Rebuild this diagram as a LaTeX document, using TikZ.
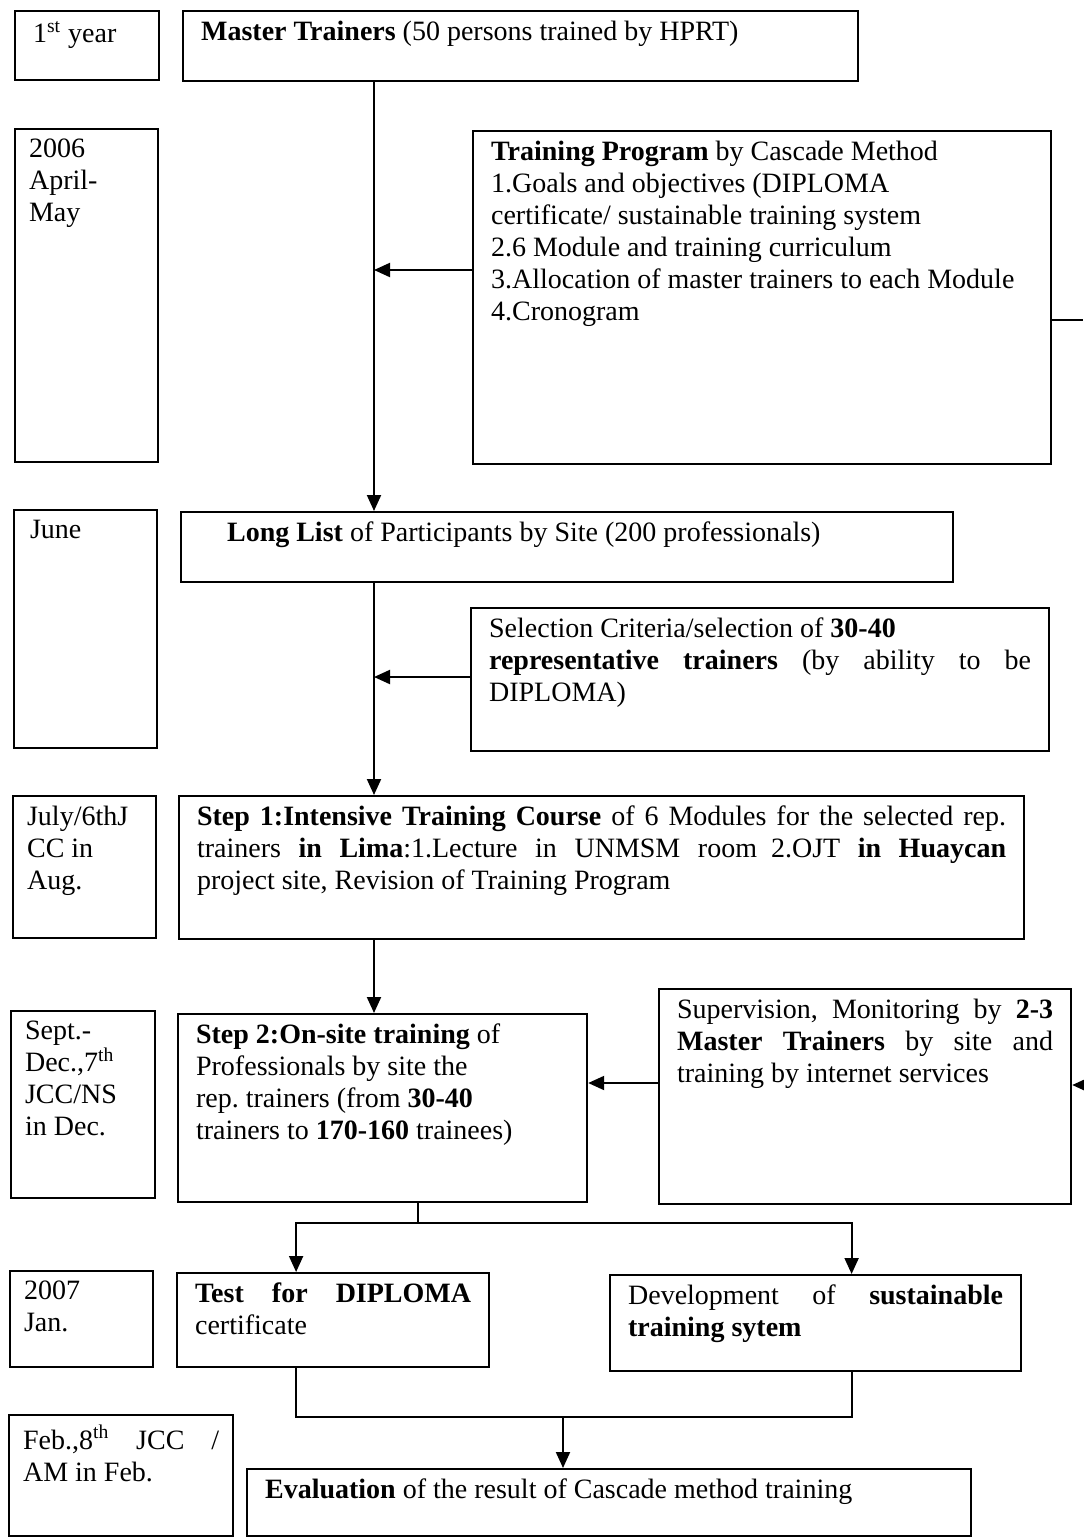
\documentclass[tikz,border=0pt]{standalone}
\usepackage{fontspec}
\setmainfont{Liberation Serif}
\usetikzlibrary{arrows.meta}
\frenchspacing

\newcommand{\cellbox}[3]{\parbox[t][#2pt][t]{#1pt}{#3}}

\begin{document}
\begin{tikzpicture}[x=0.5pt,y=-0.5pt,
    font=\fontsize{14}{16}\selectfont,
    period/.style={draw,line width=1.1pt,anchor=north west,inner xsep=7pt,inner ysep=5pt},
    stage/.style={draw,line width=1.1pt,anchor=north west,inner xsep=9pt,inner ysep=5pt},
    link/.style={line width=1pt},
    arr/.style={line width=1pt,-{Triangle[length=8pt,width=7pt]}}]
  \useasboundingbox (0,0) rectangle (1083,1537);

  % time column
  \node[period] (yr1)   at (14,10)   {\cellbox{58}{24.5}{\hspace*{2pt}1\textsuperscript{st} year}};
  \node[period] (apr)   at (14,128)  {\cellbox{57.5}{156.5}{2006\\April-\\May}};
  \node[period] (jun)   at (13,509)  {\cellbox{57.5}{109}{\hspace*{1pt}June}};
  \node[period] (jul)   at (12,795)  {\cellbox{57.5}{61}{July/6thJ\\CC in\\Aug.}};
  \node[period] (sep)   at (10,1010) {\cellbox{58}{83.5}{Sept.-\\Dec.,7\textsuperscript{th}\\JCC/NS\\in Dec.}};
  \node[period] (jan)   at (9,1270)  {\cellbox{57.5}{38}{2007\\Jan.}};
  \node[period] (feb)   at (8,1414)  {\cellbox{98}{50.5}{Feb.,8\textsuperscript{th} JCC /\linebreak AM in Feb.}};

  % stages
  \node[stage] (master) at (182,10) {\cellbox{319.5}{25}{\textbf{Master Trainers} (50 persons trained by HPRT)}};
  \node[stage] (prog) at (472,130) {\cellbox{271}{156.5}{\textbf{Training Program} by Cascade Method\\
    1.Goals and objectives (DIPLOMA\\
    certificate/ sustainable training system\\
    2.6 Module and training curriculum\\
    3.Allocation of master trainers to each Module\\
    4.Cronogram}};
  \node[stage] (list) at (180,511) {\cellbox{368}{25}{\hspace*{14pt}\textbf{Long List} of Participants by Site (200 professionals)}};
  \node[stage] (select) at (470,607) {\cellbox{271}{61.5}{Selection Criteria/selection of \textbf{30-40}\\
    \textbf{representative trainers} (by ability to be\linebreak
    DIPLOMA)}};
  \node[stage] (step1) at (178,795) {\cellbox{404.5}{61.5}{\textbf{Step 1:Intensive Training Course} of 6 Modules for the selected rep.\linebreak
    trainers \textbf{in Lima}:1.Lecture in UNMSM room\enspace 2.OJT \textbf{in Huaycan}\linebreak
    project site, Revision of Training Program}};
  \node[stage] (step2) at (177,1013) {\cellbox{186.5}{84}{\textbf{Step 2:On-site training} of\\
    Professionals by site the\\
    rep. trainers (from \textbf{30-40}\\
    trainers to \textbf{170-160} trainees)}};
  \node[stage] (superv) at (658,988) {\cellbox{188}{97.5}{Supervision, Monitoring by \textbf{2-3}\linebreak
    \textbf{Master Trainers} by site and\linebreak
    training by internet services}};
  \node[stage] (test) at (176,1272) {\cellbox{138}{37}{\textbf{Test for DIPLOMA}\linebreak certificate}};
  \node[stage] (devel) at (609,1274) {\cellbox{187.5}{38}{Development of \textbf{sustainable}\linebreak \textbf{training sytem}}};
  \node[stage] (eval) at (246,1468) {\cellbox{344}{23.5}{\textbf{Evaluation} of the result of Cascade method training}};

  % connectors
  \coordinate (spine) at (374,0);
  \coordinate (fork) at (418,1223);
  \coordinate (join) at (563,1417);
  \coordinate (edge1) at (1083,320);
  \coordinate (edge2) at (1083,1085);

  \draw[arr] (spine |- master.south) -- (spine |- list.north);
  \draw[arr] (prog.west |- 0,270) -- (spine |- 0,270);
  \draw[arr] (spine |- list.south) -- (spine |- step1.north);
  \draw[arr] (select.west |- 0,677) -- (spine |- 0,677);
  \draw[arr] (spine |- step1.south) -- (spine |- step2.north);
  \draw[arr] (superv.west |- 0,1083) -- (step2.east |- 0,1083);
  \draw[link] (fork |- step2.south) -- (fork);
  \draw[arr] (fork) -| ([xshift=-18.5pt]test.north);
  \draw[arr] (fork) -| ([xshift=18pt]devel.north);
  \draw[link] ([xshift=-18.5pt]test.south) |- (join) -| ([xshift=18pt]devel.south);
  \draw[arr] (join) -- (join |- eval.north);
  \draw[link] (prog.east |- edge1) -- (edge1);
  \draw[arr] (edge2) -- (superv.east |- edge2);
\end{tikzpicture}
\end{document}
